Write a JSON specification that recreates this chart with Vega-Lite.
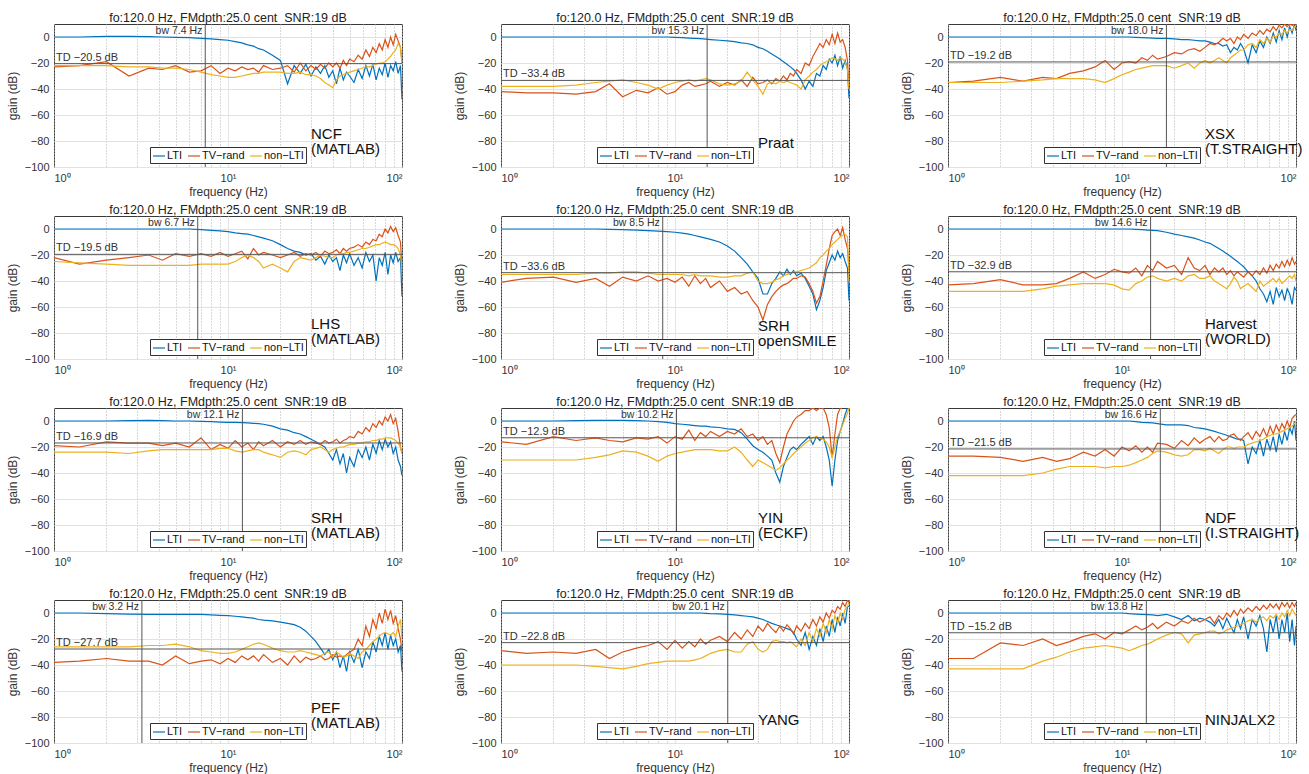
{
"$schema": "https://vega.github.io/schema/vega-lite/v6.json",
"padding": {"left": 5, "top": 11, "right": 0, "bottom": 0},
"config": {
 "font": "Liberation Sans",
 "view": {"stroke": "#3a3a3a"},
 "title": {"fontSize": 12.5, "fontWeight": "normal", "color": "#222", "offset": -1},
 "axis": {"labelFontSize": 11, "titleFontSize": 12, "titleFontWeight": "normal", "labelColor": "#333", "titleColor": "#333", "grid": true, "gridColor": "#e2e2e2", "ticks": false, "domain": false, "labelPadding": 5, "labelOverlap": false},
 "axisY": {"titlePadding": 5},
 "axisX": {"titlePadding": 3},
 "line": {"strokeWidth": 1.2},
 "rule": {"color": "#555", "strokeWidth": 1},
 "text": {"fontSize": 10.5, "color": "#333"},
 "legend": {"symbolType": "stroke", "symbolStrokeWidth": 1.8, "symbolSize": 144, "labelFontSize": 11, "labelColor": "#111", "strokeColor": "#333", "fillColor": "white", "padding": 2, "columnPadding": 2, "labelOffset": 1, "rowPadding": 0}
},
"datasets": {
"p1": [
{"f":1,"L":0,"T":-23,"N":-22},{"f":1.4,"L":0,"T":-22,"N":-22},{"f":2,"L":0.5,"T":-19,"N":-22},{"f":2.7,"L":0.5,"T":-30,"N":-23},{"f":3.5,"L":0.3,"T":-24,"N":-23},{"f":4.2,"L":0,"T":-25,"N":-24},{"f":5,"L":-0.3,"T":-22,"N":-24},{"f":6,"L":-0.5,"T":-27,"N":-25},{"f":7,"L":-1,"T":-26,"N":-27},{"f":8,"L":-1.5,"T":-22,"N":-29},{"f":9,"L":-2,"T":-28,"N":-30},{"f":10,"L":-2.5,"T":-24,"N":-31},{"f":11,"L":-3.5,"T":-26,"N":-31},{"f":12,"L":-4.5,"T":-23,"N":-30},{"f":13,"L":-6,"T":-25,"N":-29},{"f":14,"L":-7,"T":-24,"N":-28},{"f":15,"L":-9,"T":-27,"N":-28},{"f":16,"L":-10,"T":-22,"N":-27},{"f":18,"L":-14,"T":-25,"N":-27},{"f":20,"L":-18,"T":-24,"N":-27},{"f":22,"L":-36,"T":-22,"N":-28},{"f":24,"L":-22,"T":-27,"N":-28},{"f":26,"L":-28,"T":-20,"N":-27},{"f":28,"L":-21,"T":-26,"N":-29},{"f":30,"L":-30,"T":-22,"N":-29},{"f":32,"L":-23,"T":-25,"N":-30},{"f":34,"L":-28,"T":-21,"N":-32},{"f":36,"L":-22,"T":-24,"N":-35},{"f":38,"L":-31,"T":-20,"N":-37},{"f":40,"L":-26,"T":-23,"N":-39},{"f":42,"L":-36,"T":-20,"N":-33},{"f":44,"L":-24,"T":-24,"N":-30},{"f":46,"L":-33,"T":-18,"N":-29},{"f":48,"L":-27,"T":-22,"N":-28},{"f":50,"L":-30,"T":-17,"N":-27},{"f":53,"L":-35,"T":-19,"N":-26},{"f":56,"L":-25,"T":-14,"N":-25},{"f":59,"L":-32,"T":-17,"N":-24},{"f":62,"L":-22,"T":-10,"N":-23},{"f":65,"L":-30,"T":-15,"N":-23},{"f":68,"L":-21,"T":-8,"N":-22},{"f":71,"L":-33,"T":-12,"N":-21},{"f":74,"L":-24,"T":-5,"N":-20},{"f":77,"L":-29,"T":-10,"N":-20},{"f":80,"L":-20,"T":-2,"N":-19},{"f":83,"L":-31,"T":-8,"N":-17},{"f":86,"L":-22,"T":0,"N":-15},{"f":89,"L":-26,"T":-6,"N":-12},{"f":92,"L":-19,"T":2,"N":-10},{"f":95,"L":-28,"T":-3,"N":-5},{"f":98,"L":-22,"T":-8,"N":-8},{"f":100,"L":-48,"T":-20,"N":-20}
],
"p2": [
{"f":1,"L":0,"T":-42,"N":-38},{"f":1.4,"L":0,"T":-43,"N":-38},{"f":2,"L":0,"T":-43,"N":-38},{"f":2.7,"L":0,"T":-44,"N":-37},{"f":3.5,"L":0,"T":-42,"N":-35},{"f":4.2,"L":0,"T":-36,"N":-34},{"f":5,"L":0,"T":-46,"N":-33},{"f":6,"L":0,"T":-41,"N":-35},{"f":7,"L":0,"T":-43,"N":-37},{"f":8,"L":0,"T":-39,"N":-40},{"f":9,"L":0,"T":-44,"N":-37},{"f":10,"L":-0.3,"T":-42,"N":-35},{"f":11,"L":-0.5,"T":-37,"N":-34},{"f":12,"L":-0.8,"T":-35,"N":-33},{"f":13,"L":-1,"T":-38,"N":-34},{"f":14,"L":-1.3,"T":-37,"N":-33},{"f":15,"L":-1.7,"T":-36,"N":-32},{"f":16,"L":-2,"T":-34,"N":-33},{"f":18,"L":-2.5,"T":-38,"N":-36},{"f":20,"L":-3,"T":-35,"N":-37},{"f":22,"L":-3.5,"T":-37,"N":-36},{"f":24,"L":-4.5,"T":-33,"N":-34},{"f":26,"L":-5,"T":-38,"N":-27},{"f":28,"L":-6,"T":-31,"N":-33},{"f":30,"L":-8,"T":-36,"N":-38},{"f":32,"L":-9,"T":-35,"N":-44},{"f":34,"L":-11,"T":-33,"N":-36},{"f":36,"L":-13,"T":-36,"N":-35},{"f":38,"L":-15,"T":-32,"N":-36},{"f":40,"L":-17,"T":-34,"N":-34},{"f":42,"L":-19,"T":-30,"N":-35},{"f":44,"L":-21,"T":-33,"N":-34},{"f":46,"L":-23,"T":-28,"N":-35},{"f":48,"L":-25,"T":-30,"N":-36},{"f":50,"L":-28,"T":-25,"N":-37},{"f":53,"L":-33,"T":-28,"N":-40},{"f":56,"L":-40,"T":-20,"N":-33},{"f":59,"L":-34,"T":-22,"N":-30},{"f":62,"L":-38,"T":-15,"N":-27},{"f":65,"L":-28,"T":-10,"N":-25},{"f":68,"L":-30,"T":-5,"N":-22},{"f":71,"L":-22,"T":-8,"N":-20},{"f":74,"L":-25,"T":-2,"N":-19},{"f":77,"L":-17,"T":-6,"N":-18},{"f":80,"L":-20,"T":2,"N":-16},{"f":83,"L":-14,"T":-5,"N":-17},{"f":86,"L":-22,"T":3,"N":-18},{"f":89,"L":-15,"T":-4,"N":-16},{"f":92,"L":-24,"T":-2,"N":-17},{"f":95,"L":-18,"T":-8,"N":-19},{"f":98,"L":-25,"T":-18,"N":-25},{"f":100,"L":-47,"T":-40,"N":-40}
],
"p3": [
{"f":1,"L":0,"T":-35,"N":-35},{"f":1.4,"L":0,"T":-34,"N":-35},{"f":2,"L":0,"T":-31,"N":-35},{"f":2.7,"L":0,"T":-34,"N":-34},{"f":3.5,"L":0,"T":-31,"N":-33},{"f":4.2,"L":0,"T":-32,"N":-32},{"f":5,"L":0,"T":-28,"N":-32},{"f":6,"L":0,"T":-26,"N":-32},{"f":7,"L":0,"T":-23,"N":-33},{"f":8,"L":0,"T":-18,"N":-35},{"f":9,"L":0,"T":-25,"N":-32},{"f":10,"L":0,"T":-20,"N":-29},{"f":11,"L":0,"T":-19,"N":-27},{"f":12,"L":-0.3,"T":-20,"N":-25},{"f":13,"L":-0.5,"T":-16,"N":-24},{"f":14,"L":-0.7,"T":-18,"N":-23},{"f":15,"L":-0.8,"T":-14,"N":-22},{"f":16,"L":-1,"T":-17,"N":-22},{"f":18,"L":-1,"T":-15,"N":-22},{"f":20,"L":-1.5,"T":-12,"N":-24},{"f":22,"L":-2,"T":-13,"N":-22},{"f":24,"L":-2,"T":-10,"N":-20},{"f":26,"L":-2.5,"T":-9,"N":-24},{"f":28,"L":-3,"T":-11,"N":-20},{"f":30,"L":-3,"T":-8,"N":-18},{"f":32,"L":-4,"T":-5,"N":-20},{"f":34,"L":-5,"T":-6,"N":-18},{"f":36,"L":-5,"T":-4,"N":-16},{"f":38,"L":-7,"T":-1,"N":-18},{"f":40,"L":-6,"T":-3,"N":-20},{"f":42,"L":-12,"T":-1,"N":-16},{"f":44,"L":-8,"T":-5,"N":-14},{"f":46,"L":-10,"T":0,"N":-12},{"f":48,"L":-5,"T":-2,"N":-10},{"f":50,"L":-9,"T":2,"N":-10},{"f":53,"L":-20,"T":-1,"N":-6},{"f":56,"L":-6,"T":3,"N":-5},{"f":59,"L":-12,"T":1,"N":-8},{"f":62,"L":-3,"T":5,"N":-2},{"f":65,"L":-8,"T":2,"N":-5},{"f":68,"L":0,"T":6,"N":-1},{"f":71,"L":-5,"T":4,"N":-4},{"f":74,"L":3,"T":8,"N":1},{"f":77,"L":-4,"T":5,"N":0},{"f":80,"L":5,"T":9,"N":3},{"f":83,"L":-2,"T":7,"N":2},{"f":86,"L":7,"T":10,"N":5},{"f":89,"L":0,"T":8,"N":3},{"f":92,"L":8,"T":10,"N":6},{"f":95,"L":3,"T":9,"N":5},{"f":98,"L":10,"T":10,"N":8},{"f":100,"L":5,"T":10,"N":8}
],
"p4": [
{"f":1,"L":0,"T":-22,"N":-25},{"f":1.4,"L":0,"T":-27,"N":-26},{"f":2,"L":0,"T":-24,"N":-27},{"f":2.7,"L":0,"T":-22,"N":-28},{"f":3.5,"L":0,"T":-20,"N":-28},{"f":4.2,"L":0,"T":-24,"N":-28},{"f":5,"L":0,"T":-19,"N":-28},{"f":6,"L":0,"T":-21,"N":-28},{"f":7,"L":-0.5,"T":-19,"N":-27},{"f":8,"L":-1,"T":-21,"N":-27},{"f":9,"L":-1.5,"T":-18,"N":-27},{"f":10,"L":-2,"T":-21,"N":-27},{"f":11,"L":-3,"T":-19,"N":-25},{"f":12,"L":-3.5,"T":-17,"N":-22},{"f":13,"L":-4,"T":-23,"N":-20},{"f":14,"L":-5,"T":-15,"N":-22},{"f":15,"L":-6,"T":-20,"N":-25},{"f":16,"L":-7,"T":-18,"N":-30},{"f":18,"L":-9,"T":-20,"N":-27},{"f":20,"L":-12,"T":-22,"N":-30},{"f":22,"L":-15,"T":-20,"N":-33},{"f":24,"L":-17,"T":-18,"N":-25},{"f":26,"L":-18,"T":-21,"N":-22},{"f":28,"L":-20,"T":-19,"N":-23},{"f":30,"L":-19,"T":-20,"N":-24},{"f":32,"L":-24,"T":-18,"N":-22},{"f":34,"L":-21,"T":-21,"N":-20},{"f":36,"L":-27,"T":-17,"N":-21},{"f":38,"L":-20,"T":-19,"N":-22},{"f":40,"L":-25,"T":-18,"N":-22},{"f":42,"L":-22,"T":-16,"N":-20},{"f":44,"L":-32,"T":-19,"N":-19},{"f":46,"L":-20,"T":-15,"N":-19},{"f":48,"L":-26,"T":-17,"N":-18},{"f":50,"L":-19,"T":-15,"N":-18},{"f":53,"L":-28,"T":-14,"N":-17},{"f":56,"L":-22,"T":-12,"N":-16},{"f":59,"L":-30,"T":-14,"N":-15},{"f":62,"L":-18,"T":-10,"N":-15},{"f":65,"L":-25,"T":-12,"N":-14},{"f":68,"L":-20,"T":-8,"N":-13},{"f":71,"L":-40,"T":-9,"N":-12},{"f":74,"L":-22,"T":-4,"N":-12},{"f":77,"L":-28,"T":-6,"N":-11},{"f":80,"L":-18,"T":0,"N":-10},{"f":83,"L":-35,"T":-3,"N":-11},{"f":86,"L":-20,"T":2,"N":-12},{"f":89,"L":-26,"T":-2,"N":-12},{"f":92,"L":-18,"T":1,"N":-13},{"f":95,"L":-25,"T":-5,"N":-15},{"f":98,"L":-22,"T":-10,"N":-20},{"f":100,"L":-52,"T":-30,"N":-30}
],
"p5": [
{"f":1,"L":0,"T":-41,"N":-35},{"f":1.4,"L":0,"T":-38,"N":-35},{"f":2,"L":0,"T":-37,"N":-35},{"f":2.7,"L":0,"T":-41,"N":-35},{"f":3.5,"L":0,"T":-38,"N":-34},{"f":4.2,"L":-0.3,"T":-44,"N":-34},{"f":5,"L":-0.5,"T":-37,"N":-33},{"f":6,"L":-0.8,"T":-40,"N":-33},{"f":7,"L":-1.2,"T":-36,"N":-34},{"f":8,"L":-1.6,"T":-40,"N":-35},{"f":9,"L":-2,"T":-38,"N":-35},{"f":10,"L":-2.5,"T":-41,"N":-35},{"f":11,"L":-3.2,"T":-37,"N":-35},{"f":12,"L":-4,"T":-44,"N":-36},{"f":13,"L":-5,"T":-36,"N":-35},{"f":14,"L":-6,"T":-42,"N":-36},{"f":15,"L":-7,"T":-38,"N":-36},{"f":16,"L":-8,"T":-45,"N":-36},{"f":18,"L":-10,"T":-40,"N":-37},{"f":20,"L":-13,"T":-48,"N":-37},{"f":22,"L":-17,"T":-45,"N":-36},{"f":24,"L":-22,"T":-50,"N":-36},{"f":26,"L":-27,"T":-48,"N":-34},{"f":28,"L":-33,"T":-55,"N":-33},{"f":30,"L":-38,"T":-60,"N":-40},{"f":32,"L":-50,"T":-70,"N":-42},{"f":34,"L":-50,"T":-58,"N":-42},{"f":36,"L":-42,"T":-52,"N":-41},{"f":38,"L":-38,"T":-48,"N":-39},{"f":40,"L":-33,"T":-45,"N":-38},{"f":42,"L":-36,"T":-43,"N":-36},{"f":44,"L":-31,"T":-42,"N":-35},{"f":46,"L":-35,"T":-40,"N":-34},{"f":48,"L":-32,"T":-38,"N":-33},{"f":50,"L":-36,"T":-38,"N":-33},{"f":53,"L":-34,"T":-36,"N":-32},{"f":56,"L":-38,"T":-37,"N":-31},{"f":59,"L":-44,"T":-42,"N":-30},{"f":62,"L":-50,"T":-48,"N":-28},{"f":65,"L":-62,"T":-57,"N":-26},{"f":68,"L":-55,"T":-52,"N":-22},{"f":71,"L":-45,"T":-40,"N":-20},{"f":74,"L":-32,"T":-28,"N":-17},{"f":77,"L":-26,"T":-15,"N":-15},{"f":80,"L":-20,"T":-5,"N":-12},{"f":83,"L":-24,"T":-2,"N":-10},{"f":86,"L":-17,"T":0,"N":-8},{"f":89,"L":-22,"T":-5,"N":-6},{"f":92,"L":-19,"T":1,"N":-5},{"f":95,"L":-25,"T":-8,"N":-4},{"f":98,"L":-30,"T":-15,"N":-6},{"f":100,"L":-55,"T":-30,"N":-40}
],
"p6": [
{"f":1,"L":0,"T":-43,"N":-48},{"f":1.4,"L":0,"T":-42,"N":-48},{"f":2,"L":0,"T":-39,"N":-48},{"f":2.7,"L":0,"T":-43,"N":-48},{"f":3.5,"L":0,"T":-43,"N":-46},{"f":4.2,"L":0,"T":-42,"N":-44},{"f":5,"L":0,"T":-38,"N":-43},{"f":6,"L":0,"T":-33,"N":-42},{"f":7,"L":0,"T":-38,"N":-42},{"f":8,"L":0,"T":-35,"N":-42},{"f":9,"L":0,"T":-31,"N":-43},{"f":10,"L":0,"T":-33,"N":-46},{"f":11,"L":0,"T":-34,"N":-47},{"f":12,"L":-0.3,"T":-30,"N":-42},{"f":13,"L":-0.5,"T":-36,"N":-40},{"f":14,"L":-0.8,"T":-28,"N":-37},{"f":15,"L":-1,"T":-32,"N":-36},{"f":16,"L":-1.3,"T":-25,"N":-38},{"f":18,"L":-2.5,"T":-30,"N":-40},{"f":20,"L":-4,"T":-28,"N":-38},{"f":22,"L":-5,"T":-35,"N":-40},{"f":24,"L":-6,"T":-22,"N":-36},{"f":26,"L":-7,"T":-30,"N":-35},{"f":28,"L":-8.5,"T":-32,"N":-38},{"f":30,"L":-10,"T":-28,"N":-38},{"f":32,"L":-11,"T":-35,"N":-36},{"f":34,"L":-13,"T":-30,"N":-40},{"f":36,"L":-15,"T":-33,"N":-42},{"f":38,"L":-17,"T":-30,"N":-44},{"f":40,"L":-19,"T":-35,"N":-46},{"f":42,"L":-21,"T":-32,"N":-42},{"f":44,"L":-23,"T":-36,"N":-37},{"f":46,"L":-25,"T":-33,"N":-40},{"f":48,"L":-27,"T":-35,"N":-46},{"f":50,"L":-29,"T":-37,"N":-44},{"f":53,"L":-33,"T":-33,"N":-42},{"f":56,"L":-36,"T":-36,"N":-45},{"f":59,"L":-40,"T":-32,"N":-48},{"f":62,"L":-46,"T":-35,"N":-40},{"f":65,"L":-50,"T":-30,"N":-44},{"f":68,"L":-56,"T":-34,"N":-42},{"f":71,"L":-48,"T":-28,"N":-40},{"f":74,"L":-58,"T":-32,"N":-38},{"f":77,"L":-45,"T":-27,"N":-41},{"f":80,"L":-52,"T":-30,"N":-38},{"f":83,"L":-47,"T":-25,"N":-42},{"f":86,"L":-55,"T":-29,"N":-40},{"f":89,"L":-46,"T":-24,"N":-38},{"f":92,"L":-50,"T":-28,"N":-36},{"f":95,"L":-58,"T":-22,"N":-38},{"f":98,"L":-45,"T":-27,"N":-35},{"f":100,"L":-47,"T":-25,"N":-40}
],
"p7": [
{"f":1,"L":0,"T":-19,"N":-24},{"f":1.4,"L":0,"T":-20,"N":-24},{"f":2,"L":0,"T":-16,"N":-24},{"f":2.7,"L":0.3,"T":-17,"N":-25},{"f":3.5,"L":0.5,"T":-17,"N":-23},{"f":4.2,"L":0.3,"T":-19,"N":-22},{"f":5,"L":0,"T":-17,"N":-22},{"f":6,"L":0,"T":-20,"N":-22},{"f":7,"L":-0.3,"T":-13,"N":-22},{"f":8,"L":-0.5,"T":-22,"N":-22},{"f":9,"L":-0.8,"T":-18,"N":-21},{"f":10,"L":-1,"T":-21,"N":-21},{"f":11,"L":-1,"T":-15,"N":-23},{"f":12,"L":-1.2,"T":-20,"N":-24},{"f":13,"L":-1.5,"T":-17,"N":-23},{"f":14,"L":-1.8,"T":-22,"N":-22},{"f":15,"L":-2,"T":-16,"N":-22},{"f":16,"L":-2.5,"T":-19,"N":-24},{"f":18,"L":-4,"T":-15,"N":-26},{"f":20,"L":-6,"T":-20,"N":-28},{"f":22,"L":-7,"T":-16,"N":-24},{"f":24,"L":-9,"T":-18,"N":-23},{"f":26,"L":-10,"T":-15,"N":-24},{"f":28,"L":-12,"T":-18,"N":-26},{"f":30,"L":-14,"T":-16,"N":-22},{"f":32,"L":-16,"T":-17,"N":-21},{"f":34,"L":-18,"T":-18,"N":-20},{"f":36,"L":-20,"T":-15,"N":-22},{"f":38,"L":-25,"T":-17,"N":-24},{"f":40,"L":-30,"T":-16,"N":-22},{"f":42,"L":-22,"T":-14,"N":-21},{"f":44,"L":-33,"T":-17,"N":-20},{"f":46,"L":-25,"T":-15,"N":-20},{"f":48,"L":-40,"T":-14,"N":-19},{"f":50,"L":-28,"T":-12,"N":-18},{"f":53,"L":-35,"T":-13,"N":-18},{"f":56,"L":-22,"T":-8,"N":-17},{"f":59,"L":-28,"T":-10,"N":-17},{"f":62,"L":-20,"T":-5,"N":-16},{"f":65,"L":-30,"T":-8,"N":-16},{"f":68,"L":-18,"T":-2,"N":-15},{"f":71,"L":-25,"T":-5,"N":-15},{"f":74,"L":-15,"T":0,"N":-14},{"f":77,"L":-22,"T":-3,"N":-14},{"f":80,"L":-14,"T":3,"N":-13},{"f":83,"L":-20,"T":0,"N":-13},{"f":86,"L":-16,"T":5,"N":-13},{"f":89,"L":-25,"T":-2,"N":-14},{"f":92,"L":-20,"T":2,"N":-15},{"f":95,"L":-30,"T":-8,"N":-17},{"f":98,"L":-35,"T":-20,"N":-20},{"f":100,"L":-42,"T":-25,"N":-25}
],
"p8": [
{"f":1,"L":0,"T":-16,"N":-30},{"f":1.4,"L":0,"T":-18,"N":-30},{"f":2,"L":0,"T":-12,"N":-30},{"f":2.7,"L":0.3,"T":-15,"N":-30},{"f":3.5,"L":0.5,"T":-13,"N":-28},{"f":4.2,"L":0.5,"T":-15,"N":-26},{"f":5,"L":0.5,"T":-16,"N":-23},{"f":6,"L":0.3,"T":-13,"N":-24},{"f":7,"L":0,"T":-14,"N":-27},{"f":8,"L":-0.5,"T":-12,"N":-31},{"f":9,"L":-1,"T":-17,"N":-27},{"f":10,"L":-2,"T":-12,"N":-25},{"f":11,"L":-2.5,"T":-14,"N":-24},{"f":12,"L":-3,"T":-7,"N":-23},{"f":13,"L":-3.5,"T":-15,"N":-22},{"f":14,"L":-4,"T":-9,"N":-22},{"f":15,"L":-4,"T":-12,"N":-22},{"f":16,"L":-4.5,"T":-8,"N":-22},{"f":18,"L":-5,"T":-12,"N":-23},{"f":20,"L":-6,"T":-8,"N":-23},{"f":22,"L":-6.5,"T":-10,"N":-20},{"f":24,"L":-9,"T":-6,"N":-24},{"f":26,"L":-14,"T":-12,"N":-30},{"f":28,"L":-19,"T":-10,"N":-35},{"f":30,"L":-22,"T":-15,"N":-30},{"f":32,"L":-24,"T":-12,"N":-32},{"f":34,"L":-27,"T":-18,"N":-34},{"f":36,"L":-30,"T":-15,"N":-36},{"f":38,"L":-40,"T":-25,"N":-38},{"f":40,"L":-47,"T":-32,"N":-36},{"f":42,"L":-35,"T":-20,"N":-33},{"f":44,"L":-28,"T":-10,"N":-30},{"f":46,"L":-22,"T":-5,"N":-28},{"f":48,"L":-20,"T":0,"N":-25},{"f":50,"L":-22,"T":3,"N":-23},{"f":53,"L":-18,"T":5,"N":-20},{"f":56,"L":-15,"T":8,"N":-17},{"f":59,"L":-12,"T":8,"N":-15},{"f":62,"L":-18,"T":10,"N":-13},{"f":65,"L":-12,"T":8,"N":-12},{"f":68,"L":-15,"T":10,"N":-13},{"f":71,"L":-12,"T":10,"N":-14},{"f":74,"L":-20,"T":5,"N":-16},{"f":77,"L":-30,"T":-5,"N":-20},{"f":80,"L":-50,"T":-28,"N":-28},{"f":83,"L":-30,"T":-10,"N":-20},{"f":86,"L":-15,"T":5,"N":-12},{"f":89,"L":-8,"T":10,"N":-8},{"f":92,"L":-2,"T":12,"N":-3},{"f":95,"L":5,"T":12,"N":2},{"f":98,"L":10,"T":12,"N":6},{"f":100,"L":10,"T":12,"N":10}
],
"p9": [
{"f":1,"L":0,"T":-27,"N":-42},{"f":1.4,"L":0,"T":-27,"N":-42},{"f":2,"L":0,"T":-28,"N":-42},{"f":2.7,"L":0,"T":-31,"N":-42},{"f":3.5,"L":0,"T":-28,"N":-40},{"f":4.2,"L":0,"T":-31,"N":-37},{"f":5,"L":0,"T":-29,"N":-35},{"f":6,"L":0,"T":-24,"N":-35},{"f":7,"L":0,"T":-27,"N":-35},{"f":8,"L":0,"T":-22,"N":-36},{"f":9,"L":0,"T":-27,"N":-35},{"f":10,"L":0,"T":-20,"N":-35},{"f":11,"L":0,"T":-23,"N":-34},{"f":12,"L":-0.5,"T":-19,"N":-32},{"f":13,"L":-1,"T":-24,"N":-30},{"f":14,"L":-1.2,"T":-20,"N":-28},{"f":15,"L":-1.5,"T":-24,"N":-25},{"f":16,"L":-2,"T":-17,"N":-23},{"f":18,"L":-3,"T":-18,"N":-24},{"f":20,"L":-3,"T":-21,"N":-26},{"f":22,"L":-3,"T":-15,"N":-27},{"f":24,"L":-3.5,"T":-19,"N":-26},{"f":26,"L":-5,"T":-13,"N":-22},{"f":28,"L":-5.5,"T":-17,"N":-22},{"f":30,"L":-6,"T":-14,"N":-23},{"f":32,"L":-7,"T":-12,"N":-21},{"f":34,"L":-8,"T":-16,"N":-23},{"f":36,"L":-9,"T":-12,"N":-25},{"f":38,"L":-10,"T":-15,"N":-22},{"f":40,"L":-11,"T":-14,"N":-20},{"f":42,"L":-12,"T":-11,"N":-20},{"f":44,"L":-13,"T":-10,"N":-21},{"f":46,"L":-14,"T":-13,"N":-20},{"f":48,"L":-14,"T":-15,"N":-20},{"f":50,"L":-15,"T":-12,"N":-20},{"f":53,"L":-33,"T":-9,"N":-18},{"f":56,"L":-20,"T":-14,"N":-17},{"f":59,"L":-25,"T":-8,"N":-16},{"f":62,"L":-15,"T":-12,"N":-15},{"f":65,"L":-27,"T":-6,"N":-14},{"f":68,"L":-14,"T":-12,"N":-12},{"f":71,"L":-22,"T":-4,"N":-11},{"f":74,"L":-12,"T":-10,"N":-10},{"f":77,"L":-24,"T":-3,"N":-10},{"f":80,"L":-10,"T":-8,"N":-9},{"f":83,"L":-18,"T":-2,"N":-8},{"f":86,"L":-8,"T":-6,"N":-7},{"f":89,"L":-15,"T":0,"N":-6},{"f":92,"L":-5,"T":-5,"N":-5},{"f":95,"L":-10,"T":2,"N":-4},{"f":98,"L":0,"T":4,"N":-2},{"f":100,"L":-15,"T":5,"N":0}
],
"p10": [
{"f":1,"L":0,"T":-38,"N":-26},{"f":1.4,"L":0,"T":-37,"N":-26},{"f":2,"L":-0.5,"T":-35,"N":-26},{"f":2.7,"L":-0.8,"T":-37,"N":-26},{"f":3.5,"L":-1,"T":-37,"N":-25},{"f":4.2,"L":-1,"T":-40,"N":-25},{"f":5,"L":-1,"T":-33,"N":-24},{"f":6,"L":-1,"T":-39,"N":-26},{"f":7,"L":-1,"T":-37,"N":-29},{"f":8,"L":-1.5,"T":-36,"N":-30},{"f":9,"L":-1.8,"T":-39,"N":-31},{"f":10,"L":-2,"T":-35,"N":-31},{"f":11,"L":-2.5,"T":-38,"N":-30},{"f":12,"L":-3,"T":-33,"N":-28},{"f":13,"L":-3.5,"T":-36,"N":-26},{"f":14,"L":-4,"T":-33,"N":-24},{"f":15,"L":-5,"T":-37,"N":-23},{"f":16,"L":-5.5,"T":-32,"N":-24},{"f":18,"L":-6,"T":-38,"N":-27},{"f":20,"L":-7,"T":-35,"N":-29},{"f":22,"L":-8,"T":-40,"N":-30},{"f":24,"L":-9,"T":-33,"N":-30},{"f":26,"L":-11,"T":-38,"N":-29},{"f":28,"L":-14,"T":-34,"N":-30},{"f":30,"L":-18,"T":-36,"N":-31},{"f":32,"L":-22,"T":-35,"N":-32},{"f":34,"L":-27,"T":-33,"N":-33},{"f":36,"L":-32,"T":-36,"N":-31},{"f":38,"L":-28,"T":-35,"N":-30},{"f":40,"L":-36,"T":-32,"N":-34},{"f":42,"L":-30,"T":-34,"N":-30},{"f":44,"L":-42,"T":-33,"N":-32},{"f":46,"L":-33,"T":-34,"N":-34},{"f":48,"L":-45,"T":-32,"N":-33},{"f":50,"L":-30,"T":-30,"N":-31},{"f":53,"L":-38,"T":-28,"N":-33},{"f":56,"L":-28,"T":-20,"N":-35},{"f":59,"L":-42,"T":-25,"N":-30},{"f":62,"L":-30,"T":-10,"N":-28},{"f":65,"L":-35,"T":-18,"N":-25},{"f":68,"L":-22,"T":-5,"N":-22},{"f":71,"L":-30,"T":-12,"N":-20},{"f":74,"L":-18,"T":0,"N":-18},{"f":77,"L":-25,"T":-8,"N":-16},{"f":80,"L":-15,"T":3,"N":-15},{"f":83,"L":-28,"T":-5,"N":-16},{"f":86,"L":-17,"T":2,"N":-17},{"f":89,"L":-25,"T":-8,"N":-15},{"f":92,"L":-20,"T":-2,"N":-18},{"f":95,"L":-30,"T":-12,"N":-10},{"f":98,"L":-25,"T":-20,"N":-5},{"f":100,"L":-45,"T":-30,"N":-20}
],
"p11": [
{"f":1,"L":0,"T":-29,"N":-40},{"f":1.4,"L":0,"T":-31,"N":-40},{"f":2,"L":0,"T":-30,"N":-40},{"f":2.7,"L":0,"T":-31,"N":-40},{"f":3.5,"L":0,"T":-28,"N":-41},{"f":4.2,"L":0,"T":-35,"N":-42},{"f":5,"L":0,"T":-30,"N":-43},{"f":6,"L":0,"T":-27,"N":-41},{"f":7,"L":0,"T":-25,"N":-39},{"f":8,"L":0,"T":-22,"N":-38},{"f":9,"L":0,"T":-28,"N":-37},{"f":10,"L":0,"T":-21,"N":-37},{"f":11,"L":0,"T":-27,"N":-37},{"f":12,"L":0,"T":-22,"N":-37},{"f":13,"L":0,"T":-26,"N":-36},{"f":14,"L":0,"T":-20,"N":-35},{"f":15,"L":-0.3,"T":-24,"N":-33},{"f":16,"L":-0.5,"T":-21,"N":-31},{"f":18,"L":-0.7,"T":-18,"N":-29},{"f":20,"L":-1,"T":-22,"N":-28},{"f":22,"L":-1.5,"T":-15,"N":-30},{"f":24,"L":-2,"T":-20,"N":-30},{"f":26,"L":-2.5,"T":-13,"N":-24},{"f":28,"L":-3,"T":-18,"N":-22},{"f":30,"L":-4,"T":-10,"N":-28},{"f":32,"L":-5,"T":-14,"N":-30},{"f":34,"L":-6.5,"T":-8,"N":-28},{"f":36,"L":-8,"T":-12,"N":-22},{"f":38,"L":-9,"T":-15,"N":-21},{"f":40,"L":-10,"T":-10,"N":-22},{"f":42,"L":-11,"T":-14,"N":-22},{"f":44,"L":-12,"T":-9,"N":-23},{"f":46,"L":-13,"T":-12,"N":-22},{"f":48,"L":-15,"T":-16,"N":-24},{"f":50,"L":-20,"T":-10,"N":-26},{"f":53,"L":-25,"T":-14,"N":-20},{"f":56,"L":-15,"T":-8,"N":-25},{"f":59,"L":-28,"T":-12,"N":-15},{"f":62,"L":-18,"T":-5,"N":-22},{"f":65,"L":-25,"T":-10,"N":-12},{"f":68,"L":-12,"T":-3,"N":-18},{"f":71,"L":-22,"T":-7,"N":-8},{"f":74,"L":-10,"T":0,"N":-15},{"f":77,"L":-18,"T":-4,"N":-5},{"f":80,"L":-5,"T":2,"N":-12},{"f":83,"L":-15,"T":0,"N":-2},{"f":86,"L":-3,"T":5,"N":-8},{"f":89,"L":-10,"T":3,"N":0},{"f":92,"L":0,"T":8,"N":-5},{"f":95,"L":-8,"T":5,"N":3},{"f":98,"L":5,"T":10,"N":5},{"f":100,"L":5,"T":8,"N":8}
],
"p12": [
{"f":1,"L":0,"T":-35,"N":-43},{"f":1.4,"L":0,"T":-35,"N":-43},{"f":2,"L":0,"T":-23,"N":-43},{"f":2.7,"L":0,"T":-25,"N":-43},{"f":3.5,"L":0,"T":-20,"N":-37},{"f":4.2,"L":0,"T":-25,"N":-34},{"f":5,"L":0,"T":-22,"N":-30},{"f":6,"L":0,"T":-18,"N":-27},{"f":7,"L":0,"T":-16,"N":-26},{"f":8,"L":0,"T":-20,"N":-25},{"f":9,"L":0,"T":-15,"N":-26},{"f":10,"L":0,"T":-16,"N":-27},{"f":11,"L":-0.5,"T":-13,"N":-29},{"f":12,"L":-0.8,"T":-10,"N":-27},{"f":13,"L":-1,"T":-13,"N":-25},{"f":14,"L":-1.2,"T":-11,"N":-24},{"f":15,"L":-1.5,"T":-8,"N":-22},{"f":16,"L":-2,"T":-12,"N":-20},{"f":18,"L":-1,"T":-7,"N":-17},{"f":20,"L":-3,"T":-10,"N":-15},{"f":22,"L":-5,"T":-6,"N":-16},{"f":24,"L":-2,"T":-8,"N":-23},{"f":26,"L":-6,"T":-4,"N":-17},{"f":28,"L":-4,"T":-7,"N":-16},{"f":30,"L":-5,"T":-5,"N":-15},{"f":32,"L":-7,"T":-3,"N":-14},{"f":34,"L":-10,"T":-8,"N":-14},{"f":36,"L":-5,"T":-2,"N":-16},{"f":38,"L":-12,"T":-5,"N":-15},{"f":40,"L":-4,"T":0,"N":-13},{"f":42,"L":-10,"T":-3,"N":-12},{"f":44,"L":-15,"T":2,"N":-11},{"f":46,"L":-5,"T":-2,"N":-10},{"f":48,"L":-12,"T":3,"N":-9},{"f":50,"L":-3,"T":0,"N":-8},{"f":53,"L":-20,"T":4,"N":-6},{"f":56,"L":-5,"T":1,"N":-5},{"f":59,"L":-10,"T":5,"N":-7},{"f":62,"L":-2,"T":2,"N":-4},{"f":65,"L":-12,"T":6,"N":-3},{"f":68,"L":-30,"T":3,"N":-6},{"f":71,"L":-5,"T":7,"N":-2},{"f":74,"L":-15,"T":4,"N":-4},{"f":77,"L":-2,"T":7,"N":-1},{"f":80,"L":-20,"T":3,"N":-5},{"f":83,"L":-5,"T":8,"N":0},{"f":86,"L":-15,"T":5,"N":-3},{"f":89,"L":0,"T":8,"N":2},{"f":92,"L":-22,"T":4,"N":-2},{"f":95,"L":-5,"T":8,"N":3},{"f":98,"L":-25,"T":5,"N":0},{"f":100,"L":-10,"T":8,"N":-2}
]
},
"columns": 3,
"spacing": {"row": 49, "column": 99},
"bounds": "flush",
"resolve": {"scale": {"color": "independent", "x": "independent", "y": "independent"}, "legend": {"color": "independent"}},
"concat": [
{"width":348,"height":143,"title":"fo:120.0 Hz, FMdpth:25.0 cent\u00a0 SNR:19 dB","resolve":{"axis":{"x":"independent","y":"independent"}},"layer":[
{"data":{"name":"p1"},"transform":[{"fold":["L","T","N"],"as":["s","g"]}],"mark":{"type":"line","clip":true},"encoding":{"x":{"field":"f","type":"quantitative","scale":{"type":"log","domain":[1,100],"nice":false},"axis":{"orient":"bottom","values":[1,2,3,4,5,6,7,8,9,10,20,30,40,50,60,70,80,90,100],"labelExpr":"datum.value==1?'10⁰':datum.value==10?'10¹':datum.value==100?'10²':''","gridDash":{"condition":{"test":"datum.value==10","value":[1,0]},"value":[1,2]},"gridColor":{"condition":{"test":"datum.value==10","value":"#dcdcdc"},"value":"#b0b0b0"},"title":"frequency (Hz)"}},"y":{"field":"g","type":"quantitative","scale":{"domain":[-100,10],"nice":false},"axis":{"orient":"left","values":[-100,-80,-60,-40,-20,0],"title":"gain (dB)"}},"color":{"field":"s","type":"nominal","scale":{"domain":["L","T","N"],"range":["#0072BD","#D95319","#EDB120"]},"legend":{"title":null,"orient":"none","legendX":96,"legendY":123,"direction":"horizontal","labelExpr":"datum.label=='L'?'LTI':datum.label=='T'?'TV−rand':'non−LTI'"}}}},
{"data":{"values":[{}]},"mark":{"type":"rule"},"encoding":{"x":{"datum":7.4,"type":"quantitative","axis":null}}},
{"data":{"values":[{}]},"mark":{"type":"rule"},"encoding":{"y":{"datum":-20.5,"type":"quantitative","axis":null}}},
{"data":{"values":[{}]},"mark":{"type":"text","align":"right","dx":-3},"encoding":{"x":{"datum":7.4,"type":"quantitative","axis":null},"y":{"datum":5,"type":"quantitative","axis":null},"text":{"value":"bw 7.4 Hz"}}},
{"data":{"values":[{}]},"mark":{"type":"text","align":"left","baseline":"bottom","dx":2,"dy":-1,"fontSize":11},"encoding":{"x":{"datum":1,"type":"quantitative","axis":null},"y":{"datum":-20.5,"type":"quantitative","axis":null},"text":{"value":"TD −20.5 dB"}}},
{"data":{"values":[{}]},"mark":{"type":"text","align":"left","baseline":"top","fontSize":15,"lineHeight":15,"color":"#111"},"encoding":{"x":{"datum":30,"type":"quantitative","axis":null},"y":{"datum":-69,"type":"quantitative","axis":null},"text":{"value":["NCF","(MATLAB)"]}}}
]},
{"width":348,"height":143,"title":"fo:120.0 Hz, FMdpth:25.0 cent\u00a0 SNR:19 dB","resolve":{"axis":{"x":"independent","y":"independent"}},"layer":[
{"data":{"name":"p2"},"transform":[{"fold":["L","T","N"],"as":["s","g"]}],"mark":{"type":"line","clip":true},"encoding":{"x":{"field":"f","type":"quantitative","scale":{"type":"log","domain":[1,100],"nice":false},"axis":{"orient":"bottom","values":[1,2,3,4,5,6,7,8,9,10,20,30,40,50,60,70,80,90,100],"labelExpr":"datum.value==1?'10⁰':datum.value==10?'10¹':datum.value==100?'10²':''","gridDash":{"condition":{"test":"datum.value==10","value":[1,0]},"value":[1,2]},"gridColor":{"condition":{"test":"datum.value==10","value":"#dcdcdc"},"value":"#b0b0b0"},"title":"frequency (Hz)"}},"y":{"field":"g","type":"quantitative","scale":{"domain":[-100,10],"nice":false},"axis":{"orient":"left","values":[-100,-80,-60,-40,-20,0],"title":"gain (dB)"}},"color":{"field":"s","type":"nominal","scale":{"domain":["L","T","N"],"range":["#0072BD","#D95319","#EDB120"]},"legend":{"title":null,"orient":"none","legendX":96,"legendY":123,"direction":"horizontal","labelExpr":"datum.label=='L'?'LTI':datum.label=='T'?'TV−rand':'non−LTI'"}}}},
{"data":{"values":[{}]},"mark":{"type":"rule"},"encoding":{"x":{"datum":15.3,"type":"quantitative","axis":null}}},
{"data":{"values":[{}]},"mark":{"type":"rule"},"encoding":{"y":{"datum":-33.4,"type":"quantitative","axis":null}}},
{"data":{"values":[{}]},"mark":{"type":"text","align":"right","dx":-3},"encoding":{"x":{"datum":15.3,"type":"quantitative","axis":null},"y":{"datum":5,"type":"quantitative","axis":null},"text":{"value":"bw 15.3 Hz"}}},
{"data":{"values":[{}]},"mark":{"type":"text","align":"left","baseline":"bottom","dx":2,"dy":-1,"fontSize":11},"encoding":{"x":{"datum":1,"type":"quantitative","axis":null},"y":{"datum":-33.4,"type":"quantitative","axis":null},"text":{"value":"TD −33.4 dB"}}},
{"data":{"values":[{}]},"mark":{"type":"text","align":"left","baseline":"top","fontSize":15,"lineHeight":15,"color":"#111"},"encoding":{"x":{"datum":30,"type":"quantitative","axis":null},"y":{"datum":-76,"type":"quantitative","axis":null},"text":{"value":"Praat"}}}
]},
{"width":348,"height":143,"title":"fo:120.0 Hz, FMdpth:25.0 cent\u00a0 SNR:19 dB","resolve":{"axis":{"x":"independent","y":"independent"}},"layer":[
{"data":{"name":"p3"},"transform":[{"fold":["L","T","N"],"as":["s","g"]}],"mark":{"type":"line","clip":true},"encoding":{"x":{"field":"f","type":"quantitative","scale":{"type":"log","domain":[1,100],"nice":false},"axis":{"orient":"bottom","values":[1,2,3,4,5,6,7,8,9,10,20,30,40,50,60,70,80,90,100],"labelExpr":"datum.value==1?'10⁰':datum.value==10?'10¹':datum.value==100?'10²':''","gridDash":{"condition":{"test":"datum.value==10","value":[1,0]},"value":[1,2]},"gridColor":{"condition":{"test":"datum.value==10","value":"#dcdcdc"},"value":"#b0b0b0"},"title":"frequency (Hz)"}},"y":{"field":"g","type":"quantitative","scale":{"domain":[-100,10],"nice":false},"axis":{"orient":"left","values":[-100,-80,-60,-40,-20,0],"title":"gain (dB)"}},"color":{"field":"s","type":"nominal","scale":{"domain":["L","T","N"],"range":["#0072BD","#D95319","#EDB120"]},"legend":{"title":null,"orient":"none","legendX":96,"legendY":123,"direction":"horizontal","labelExpr":"datum.label=='L'?'LTI':datum.label=='T'?'TV−rand':'non−LTI'"}}}},
{"data":{"values":[{}]},"mark":{"type":"rule"},"encoding":{"x":{"datum":18.0,"type":"quantitative","axis":null}}},
{"data":{"values":[{}]},"mark":{"type":"rule"},"encoding":{"y":{"datum":-19.2,"type":"quantitative","axis":null}}},
{"data":{"values":[{}]},"mark":{"type":"text","align":"right","dx":-3},"encoding":{"x":{"datum":18.0,"type":"quantitative","axis":null},"y":{"datum":5,"type":"quantitative","axis":null},"text":{"value":"bw 18.0 Hz"}}},
{"data":{"values":[{}]},"mark":{"type":"text","align":"left","baseline":"bottom","dx":2,"dy":-1,"fontSize":11},"encoding":{"x":{"datum":1,"type":"quantitative","axis":null},"y":{"datum":-19.2,"type":"quantitative","axis":null},"text":{"value":"TD −19.2 dB"}}},
{"data":{"values":[{}]},"mark":{"type":"text","align":"left","baseline":"top","fontSize":15,"lineHeight":15,"color":"#111"},"encoding":{"x":{"datum":30,"type":"quantitative","axis":null},"y":{"datum":-69,"type":"quantitative","axis":null},"text":{"value":["XSX","(T.STRAIGHT)"]}}}
]},
{"width":348,"height":143,"title":"fo:120.0 Hz, FMdpth:25.0 cent\u00a0 SNR:19 dB","resolve":{"axis":{"x":"independent","y":"independent"}},"layer":[
{"data":{"name":"p4"},"transform":[{"fold":["L","T","N"],"as":["s","g"]}],"mark":{"type":"line","clip":true},"encoding":{"x":{"field":"f","type":"quantitative","scale":{"type":"log","domain":[1,100],"nice":false},"axis":{"orient":"bottom","values":[1,2,3,4,5,6,7,8,9,10,20,30,40,50,60,70,80,90,100],"labelExpr":"datum.value==1?'10⁰':datum.value==10?'10¹':datum.value==100?'10²':''","gridDash":{"condition":{"test":"datum.value==10","value":[1,0]},"value":[1,2]},"gridColor":{"condition":{"test":"datum.value==10","value":"#dcdcdc"},"value":"#b0b0b0"},"title":"frequency (Hz)"}},"y":{"field":"g","type":"quantitative","scale":{"domain":[-100,10],"nice":false},"axis":{"orient":"left","values":[-100,-80,-60,-40,-20,0],"title":"gain (dB)"}},"color":{"field":"s","type":"nominal","scale":{"domain":["L","T","N"],"range":["#0072BD","#D95319","#EDB120"]},"legend":{"title":null,"orient":"none","legendX":96,"legendY":123,"direction":"horizontal","labelExpr":"datum.label=='L'?'LTI':datum.label=='T'?'TV−rand':'non−LTI'"}}}},
{"data":{"values":[{}]},"mark":{"type":"rule"},"encoding":{"x":{"datum":6.7,"type":"quantitative","axis":null}}},
{"data":{"values":[{}]},"mark":{"type":"rule"},"encoding":{"y":{"datum":-19.5,"type":"quantitative","axis":null}}},
{"data":{"values":[{}]},"mark":{"type":"text","align":"right","dx":-3},"encoding":{"x":{"datum":6.7,"type":"quantitative","axis":null},"y":{"datum":5,"type":"quantitative","axis":null},"text":{"value":"bw 6.7 Hz"}}},
{"data":{"values":[{}]},"mark":{"type":"text","align":"left","baseline":"bottom","dx":2,"dy":-1,"fontSize":11},"encoding":{"x":{"datum":1,"type":"quantitative","axis":null},"y":{"datum":-19.5,"type":"quantitative","axis":null},"text":{"value":"TD −19.5 dB"}}},
{"data":{"values":[{}]},"mark":{"type":"text","align":"left","baseline":"top","fontSize":15,"lineHeight":15,"color":"#111"},"encoding":{"x":{"datum":30,"type":"quantitative","axis":null},"y":{"datum":-68,"type":"quantitative","axis":null},"text":{"value":["LHS","(MATLAB)"]}}}
]},
{"width":348,"height":143,"title":"fo:120.0 Hz, FMdpth:25.0 cent\u00a0 SNR:19 dB","resolve":{"axis":{"x":"independent","y":"independent"}},"layer":[
{"data":{"name":"p5"},"transform":[{"fold":["L","T","N"],"as":["s","g"]}],"mark":{"type":"line","clip":true},"encoding":{"x":{"field":"f","type":"quantitative","scale":{"type":"log","domain":[1,100],"nice":false},"axis":{"orient":"bottom","values":[1,2,3,4,5,6,7,8,9,10,20,30,40,50,60,70,80,90,100],"labelExpr":"datum.value==1?'10⁰':datum.value==10?'10¹':datum.value==100?'10²':''","gridDash":{"condition":{"test":"datum.value==10","value":[1,0]},"value":[1,2]},"gridColor":{"condition":{"test":"datum.value==10","value":"#dcdcdc"},"value":"#b0b0b0"},"title":"frequency (Hz)"}},"y":{"field":"g","type":"quantitative","scale":{"domain":[-100,10],"nice":false},"axis":{"orient":"left","values":[-100,-80,-60,-40,-20,0],"title":"gain (dB)"}},"color":{"field":"s","type":"nominal","scale":{"domain":["L","T","N"],"range":["#0072BD","#D95319","#EDB120"]},"legend":{"title":null,"orient":"none","legendX":96,"legendY":123,"direction":"horizontal","labelExpr":"datum.label=='L'?'LTI':datum.label=='T'?'TV−rand':'non−LTI'"}}}},
{"data":{"values":[{}]},"mark":{"type":"rule"},"encoding":{"x":{"datum":8.5,"type":"quantitative","axis":null}}},
{"data":{"values":[{}]},"mark":{"type":"rule"},"encoding":{"y":{"datum":-33.6,"type":"quantitative","axis":null}}},
{"data":{"values":[{}]},"mark":{"type":"text","align":"right","dx":-3},"encoding":{"x":{"datum":8.5,"type":"quantitative","axis":null},"y":{"datum":5,"type":"quantitative","axis":null},"text":{"value":"bw 8.5 Hz"}}},
{"data":{"values":[{}]},"mark":{"type":"text","align":"left","baseline":"bottom","dx":2,"dy":-1,"fontSize":11},"encoding":{"x":{"datum":1,"type":"quantitative","axis":null},"y":{"datum":-33.6,"type":"quantitative","axis":null},"text":{"value":"TD −33.6 dB"}}},
{"data":{"values":[{}]},"mark":{"type":"text","align":"left","baseline":"top","fontSize":15,"lineHeight":15,"color":"#111"},"encoding":{"x":{"datum":30,"type":"quantitative","axis":null},"y":{"datum":-69,"type":"quantitative","axis":null},"text":{"value":["SRH","openSMILE"]}}}
]},
{"width":348,"height":143,"title":"fo:120.0 Hz, FMdpth:25.0 cent\u00a0 SNR:19 dB","resolve":{"axis":{"x":"independent","y":"independent"}},"layer":[
{"data":{"name":"p6"},"transform":[{"fold":["L","T","N"],"as":["s","g"]}],"mark":{"type":"line","clip":true},"encoding":{"x":{"field":"f","type":"quantitative","scale":{"type":"log","domain":[1,100],"nice":false},"axis":{"orient":"bottom","values":[1,2,3,4,5,6,7,8,9,10,20,30,40,50,60,70,80,90,100],"labelExpr":"datum.value==1?'10⁰':datum.value==10?'10¹':datum.value==100?'10²':''","gridDash":{"condition":{"test":"datum.value==10","value":[1,0]},"value":[1,2]},"gridColor":{"condition":{"test":"datum.value==10","value":"#dcdcdc"},"value":"#b0b0b0"},"title":"frequency (Hz)"}},"y":{"field":"g","type":"quantitative","scale":{"domain":[-100,10],"nice":false},"axis":{"orient":"left","values":[-100,-80,-60,-40,-20,0],"title":"gain (dB)"}},"color":{"field":"s","type":"nominal","scale":{"domain":["L","T","N"],"range":["#0072BD","#D95319","#EDB120"]},"legend":{"title":null,"orient":"none","legendX":96,"legendY":123,"direction":"horizontal","labelExpr":"datum.label=='L'?'LTI':datum.label=='T'?'TV−rand':'non−LTI'"}}}},
{"data":{"values":[{}]},"mark":{"type":"rule"},"encoding":{"x":{"datum":14.6,"type":"quantitative","axis":null}}},
{"data":{"values":[{}]},"mark":{"type":"rule"},"encoding":{"y":{"datum":-32.9,"type":"quantitative","axis":null}}},
{"data":{"values":[{}]},"mark":{"type":"text","align":"right","dx":-3},"encoding":{"x":{"datum":14.6,"type":"quantitative","axis":null},"y":{"datum":5,"type":"quantitative","axis":null},"text":{"value":"bw 14.6 Hz"}}},
{"data":{"values":[{}]},"mark":{"type":"text","align":"left","baseline":"bottom","dx":2,"dy":-1,"fontSize":11},"encoding":{"x":{"datum":1,"type":"quantitative","axis":null},"y":{"datum":-32.9,"type":"quantitative","axis":null},"text":{"value":"TD −32.9 dB"}}},
{"data":{"values":[{}]},"mark":{"type":"text","align":"left","baseline":"top","fontSize":15,"lineHeight":15,"color":"#111"},"encoding":{"x":{"datum":30,"type":"quantitative","axis":null},"y":{"datum":-68,"type":"quantitative","axis":null},"text":{"value":["Harvest","(WORLD)"]}}}
]},
{"width":348,"height":143,"title":"fo:120.0 Hz, FMdpth:25.0 cent\u00a0 SNR:19 dB","resolve":{"axis":{"x":"independent","y":"independent"}},"layer":[
{"data":{"name":"p7"},"transform":[{"fold":["L","T","N"],"as":["s","g"]}],"mark":{"type":"line","clip":true},"encoding":{"x":{"field":"f","type":"quantitative","scale":{"type":"log","domain":[1,100],"nice":false},"axis":{"orient":"bottom","values":[1,2,3,4,5,6,7,8,9,10,20,30,40,50,60,70,80,90,100],"labelExpr":"datum.value==1?'10⁰':datum.value==10?'10¹':datum.value==100?'10²':''","gridDash":{"condition":{"test":"datum.value==10","value":[1,0]},"value":[1,2]},"gridColor":{"condition":{"test":"datum.value==10","value":"#dcdcdc"},"value":"#b0b0b0"},"title":"frequency (Hz)"}},"y":{"field":"g","type":"quantitative","scale":{"domain":[-100,10],"nice":false},"axis":{"orient":"left","values":[-100,-80,-60,-40,-20,0],"title":"gain (dB)"}},"color":{"field":"s","type":"nominal","scale":{"domain":["L","T","N"],"range":["#0072BD","#D95319","#EDB120"]},"legend":{"title":null,"orient":"none","legendX":96,"legendY":123,"direction":"horizontal","labelExpr":"datum.label=='L'?'LTI':datum.label=='T'?'TV−rand':'non−LTI'"}}}},
{"data":{"values":[{}]},"mark":{"type":"rule"},"encoding":{"x":{"datum":12.1,"type":"quantitative","axis":null}}},
{"data":{"values":[{}]},"mark":{"type":"rule"},"encoding":{"y":{"datum":-16.9,"type":"quantitative","axis":null}}},
{"data":{"values":[{}]},"mark":{"type":"text","align":"right","dx":-3},"encoding":{"x":{"datum":12.1,"type":"quantitative","axis":null},"y":{"datum":5,"type":"quantitative","axis":null},"text":{"value":"bw 12.1 Hz"}}},
{"data":{"values":[{}]},"mark":{"type":"text","align":"left","baseline":"bottom","dx":2,"dy":-1,"fontSize":11},"encoding":{"x":{"datum":1,"type":"quantitative","axis":null},"y":{"datum":-16.9,"type":"quantitative","axis":null},"text":{"value":"TD −16.9 dB"}}},
{"data":{"values":[{}]},"mark":{"type":"text","align":"left","baseline":"top","fontSize":15,"lineHeight":15,"color":"#111"},"encoding":{"x":{"datum":30,"type":"quantitative","axis":null},"y":{"datum":-69,"type":"quantitative","axis":null},"text":{"value":["SRH","(MATLAB)"]}}}
]},
{"width":348,"height":143,"title":"fo:120.0 Hz, FMdpth:25.0 cent\u00a0 SNR:19 dB","resolve":{"axis":{"x":"independent","y":"independent"}},"layer":[
{"data":{"name":"p8"},"transform":[{"fold":["L","T","N"],"as":["s","g"]}],"mark":{"type":"line","clip":true},"encoding":{"x":{"field":"f","type":"quantitative","scale":{"type":"log","domain":[1,100],"nice":false},"axis":{"orient":"bottom","values":[1,2,3,4,5,6,7,8,9,10,20,30,40,50,60,70,80,90,100],"labelExpr":"datum.value==1?'10⁰':datum.value==10?'10¹':datum.value==100?'10²':''","gridDash":{"condition":{"test":"datum.value==10","value":[1,0]},"value":[1,2]},"gridColor":{"condition":{"test":"datum.value==10","value":"#dcdcdc"},"value":"#b0b0b0"},"title":"frequency (Hz)"}},"y":{"field":"g","type":"quantitative","scale":{"domain":[-100,10],"nice":false},"axis":{"orient":"left","values":[-100,-80,-60,-40,-20,0],"title":"gain (dB)"}},"color":{"field":"s","type":"nominal","scale":{"domain":["L","T","N"],"range":["#0072BD","#D95319","#EDB120"]},"legend":{"title":null,"orient":"none","legendX":96,"legendY":123,"direction":"horizontal","labelExpr":"datum.label=='L'?'LTI':datum.label=='T'?'TV−rand':'non−LTI'"}}}},
{"data":{"values":[{}]},"mark":{"type":"rule"},"encoding":{"x":{"datum":10.2,"type":"quantitative","axis":null}}},
{"data":{"values":[{}]},"mark":{"type":"rule"},"encoding":{"y":{"datum":-12.9,"type":"quantitative","axis":null}}},
{"data":{"values":[{}]},"mark":{"type":"text","align":"right","dx":-3},"encoding":{"x":{"datum":10.2,"type":"quantitative","axis":null},"y":{"datum":5,"type":"quantitative","axis":null},"text":{"value":"bw 10.2 Hz"}}},
{"data":{"values":[{}]},"mark":{"type":"text","align":"left","baseline":"bottom","dx":2,"dy":-1,"fontSize":11},"encoding":{"x":{"datum":1,"type":"quantitative","axis":null},"y":{"datum":-12.9,"type":"quantitative","axis":null},"text":{"value":"TD −12.9 dB"}}},
{"data":{"values":[{}]},"mark":{"type":"text","align":"left","baseline":"top","fontSize":15,"lineHeight":15,"color":"#111"},"encoding":{"x":{"datum":30,"type":"quantitative","axis":null},"y":{"datum":-69,"type":"quantitative","axis":null},"text":{"value":["YIN","(ECKF)"]}}}
]},
{"width":348,"height":143,"title":"fo:120.0 Hz, FMdpth:25.0 cent\u00a0 SNR:19 dB","resolve":{"axis":{"x":"independent","y":"independent"}},"layer":[
{"data":{"name":"p9"},"transform":[{"fold":["L","T","N"],"as":["s","g"]}],"mark":{"type":"line","clip":true},"encoding":{"x":{"field":"f","type":"quantitative","scale":{"type":"log","domain":[1,100],"nice":false},"axis":{"orient":"bottom","values":[1,2,3,4,5,6,7,8,9,10,20,30,40,50,60,70,80,90,100],"labelExpr":"datum.value==1?'10⁰':datum.value==10?'10¹':datum.value==100?'10²':''","gridDash":{"condition":{"test":"datum.value==10","value":[1,0]},"value":[1,2]},"gridColor":{"condition":{"test":"datum.value==10","value":"#dcdcdc"},"value":"#b0b0b0"},"title":"frequency (Hz)"}},"y":{"field":"g","type":"quantitative","scale":{"domain":[-100,10],"nice":false},"axis":{"orient":"left","values":[-100,-80,-60,-40,-20,0],"title":"gain (dB)"}},"color":{"field":"s","type":"nominal","scale":{"domain":["L","T","N"],"range":["#0072BD","#D95319","#EDB120"]},"legend":{"title":null,"orient":"none","legendX":96,"legendY":123,"direction":"horizontal","labelExpr":"datum.label=='L'?'LTI':datum.label=='T'?'TV−rand':'non−LTI'"}}}},
{"data":{"values":[{}]},"mark":{"type":"rule"},"encoding":{"x":{"datum":16.6,"type":"quantitative","axis":null}}},
{"data":{"values":[{}]},"mark":{"type":"rule"},"encoding":{"y":{"datum":-21.5,"type":"quantitative","axis":null}}},
{"data":{"values":[{}]},"mark":{"type":"text","align":"right","dx":-3},"encoding":{"x":{"datum":16.6,"type":"quantitative","axis":null},"y":{"datum":5,"type":"quantitative","axis":null},"text":{"value":"bw 16.6 Hz"}}},
{"data":{"values":[{}]},"mark":{"type":"text","align":"left","baseline":"bottom","dx":2,"dy":-1,"fontSize":11},"encoding":{"x":{"datum":1,"type":"quantitative","axis":null},"y":{"datum":-21.5,"type":"quantitative","axis":null},"text":{"value":"TD −21.5 dB"}}},
{"data":{"values":[{}]},"mark":{"type":"text","align":"left","baseline":"top","fontSize":15,"lineHeight":15,"color":"#111"},"encoding":{"x":{"datum":30,"type":"quantitative","axis":null},"y":{"datum":-69,"type":"quantitative","axis":null},"text":{"value":["NDF","(I.STRAIGHT)"]}}}
]},
{"width":348,"height":143,"title":"fo:120.0 Hz, FMdpth:25.0 cent\u00a0 SNR:19 dB","resolve":{"axis":{"x":"independent","y":"independent"}},"layer":[
{"data":{"name":"p10"},"transform":[{"fold":["L","T","N"],"as":["s","g"]}],"mark":{"type":"line","clip":true},"encoding":{"x":{"field":"f","type":"quantitative","scale":{"type":"log","domain":[1,100],"nice":false},"axis":{"orient":"bottom","values":[1,2,3,4,5,6,7,8,9,10,20,30,40,50,60,70,80,90,100],"labelExpr":"datum.value==1?'10⁰':datum.value==10?'10¹':datum.value==100?'10²':''","gridDash":{"condition":{"test":"datum.value==10","value":[1,0]},"value":[1,2]},"gridColor":{"condition":{"test":"datum.value==10","value":"#dcdcdc"},"value":"#b0b0b0"},"title":"frequency (Hz)"}},"y":{"field":"g","type":"quantitative","scale":{"domain":[-100,10],"nice":false},"axis":{"orient":"left","values":[-100,-80,-60,-40,-20,0],"title":"gain (dB)"}},"color":{"field":"s","type":"nominal","scale":{"domain":["L","T","N"],"range":["#0072BD","#D95319","#EDB120"]},"legend":{"title":null,"orient":"none","legendX":96,"legendY":123,"direction":"horizontal","labelExpr":"datum.label=='L'?'LTI':datum.label=='T'?'TV−rand':'non−LTI'"}}}},
{"data":{"values":[{}]},"mark":{"type":"rule"},"encoding":{"x":{"datum":3.2,"type":"quantitative","axis":null}}},
{"data":{"values":[{}]},"mark":{"type":"rule"},"encoding":{"y":{"datum":-27.7,"type":"quantitative","axis":null}}},
{"data":{"values":[{}]},"mark":{"type":"text","align":"right","dx":-3},"encoding":{"x":{"datum":3.2,"type":"quantitative","axis":null},"y":{"datum":5,"type":"quantitative","axis":null},"text":{"value":"bw 3.2 Hz"}}},
{"data":{"values":[{}]},"mark":{"type":"text","align":"left","baseline":"bottom","dx":2,"dy":-1,"fontSize":11},"encoding":{"x":{"datum":1,"type":"quantitative","axis":null},"y":{"datum":-27.7,"type":"quantitative","axis":null},"text":{"value":"TD −27.7 dB"}}},
{"data":{"values":[{}]},"mark":{"type":"text","align":"left","baseline":"top","fontSize":15,"lineHeight":15,"color":"#111"},"encoding":{"x":{"datum":30,"type":"quantitative","axis":null},"y":{"datum":-68,"type":"quantitative","axis":null},"text":{"value":["PEF","(MATLAB)"]}}}
]},
{"width":348,"height":143,"title":"fo:120.0 Hz, FMdpth:25.0 cent\u00a0 SNR:19 dB","resolve":{"axis":{"x":"independent","y":"independent"}},"layer":[
{"data":{"name":"p11"},"transform":[{"fold":["L","T","N"],"as":["s","g"]}],"mark":{"type":"line","clip":true},"encoding":{"x":{"field":"f","type":"quantitative","scale":{"type":"log","domain":[1,100],"nice":false},"axis":{"orient":"bottom","values":[1,2,3,4,5,6,7,8,9,10,20,30,40,50,60,70,80,90,100],"labelExpr":"datum.value==1?'10⁰':datum.value==10?'10¹':datum.value==100?'10²':''","gridDash":{"condition":{"test":"datum.value==10","value":[1,0]},"value":[1,2]},"gridColor":{"condition":{"test":"datum.value==10","value":"#dcdcdc"},"value":"#b0b0b0"},"title":"frequency (Hz)"}},"y":{"field":"g","type":"quantitative","scale":{"domain":[-100,10],"nice":false},"axis":{"orient":"left","values":[-100,-80,-60,-40,-20,0],"title":"gain (dB)"}},"color":{"field":"s","type":"nominal","scale":{"domain":["L","T","N"],"range":["#0072BD","#D95319","#EDB120"]},"legend":{"title":null,"orient":"none","legendX":96,"legendY":123,"direction":"horizontal","labelExpr":"datum.label=='L'?'LTI':datum.label=='T'?'TV−rand':'non−LTI'"}}}},
{"data":{"values":[{}]},"mark":{"type":"rule"},"encoding":{"x":{"datum":20.1,"type":"quantitative","axis":null}}},
{"data":{"values":[{}]},"mark":{"type":"rule"},"encoding":{"y":{"datum":-22.8,"type":"quantitative","axis":null}}},
{"data":{"values":[{}]},"mark":{"type":"text","align":"right","dx":-3},"encoding":{"x":{"datum":20.1,"type":"quantitative","axis":null},"y":{"datum":5,"type":"quantitative","axis":null},"text":{"value":"bw 20.1 Hz"}}},
{"data":{"values":[{}]},"mark":{"type":"text","align":"left","baseline":"bottom","dx":2,"dy":-1,"fontSize":11},"encoding":{"x":{"datum":1,"type":"quantitative","axis":null},"y":{"datum":-22.8,"type":"quantitative","axis":null},"text":{"value":"TD −22.8 dB"}}},
{"data":{"values":[{}]},"mark":{"type":"text","align":"left","baseline":"top","fontSize":15,"lineHeight":15,"color":"#111"},"encoding":{"x":{"datum":30,"type":"quantitative","axis":null},"y":{"datum":-77,"type":"quantitative","axis":null},"text":{"value":"YANG"}}}
]},
{"width":348,"height":143,"title":"fo:120.0 Hz, FMdpth:25.0 cent\u00a0 SNR:19 dB","resolve":{"axis":{"x":"independent","y":"independent"}},"layer":[
{"data":{"name":"p12"},"transform":[{"fold":["L","T","N"],"as":["s","g"]}],"mark":{"type":"line","clip":true},"encoding":{"x":{"field":"f","type":"quantitative","scale":{"type":"log","domain":[1,100],"nice":false},"axis":{"orient":"bottom","values":[1,2,3,4,5,6,7,8,9,10,20,30,40,50,60,70,80,90,100],"labelExpr":"datum.value==1?'10⁰':datum.value==10?'10¹':datum.value==100?'10²':''","gridDash":{"condition":{"test":"datum.value==10","value":[1,0]},"value":[1,2]},"gridColor":{"condition":{"test":"datum.value==10","value":"#dcdcdc"},"value":"#b0b0b0"},"title":"frequency (Hz)"}},"y":{"field":"g","type":"quantitative","scale":{"domain":[-100,10],"nice":false},"axis":{"orient":"left","values":[-100,-80,-60,-40,-20,0],"title":"gain (dB)"}},"color":{"field":"s","type":"nominal","scale":{"domain":["L","T","N"],"range":["#0072BD","#D95319","#EDB120"]},"legend":{"title":null,"orient":"none","legendX":96,"legendY":123,"direction":"horizontal","labelExpr":"datum.label=='L'?'LTI':datum.label=='T'?'TV−rand':'non−LTI'"}}}},
{"data":{"values":[{}]},"mark":{"type":"rule"},"encoding":{"x":{"datum":13.8,"type":"quantitative","axis":null}}},
{"data":{"values":[{}]},"mark":{"type":"rule"},"encoding":{"y":{"datum":-15.2,"type":"quantitative","axis":null}}},
{"data":{"values":[{}]},"mark":{"type":"text","align":"right","dx":-3},"encoding":{"x":{"datum":13.8,"type":"quantitative","axis":null},"y":{"datum":5,"type":"quantitative","axis":null},"text":{"value":"bw 13.8 Hz"}}},
{"data":{"values":[{}]},"mark":{"type":"text","align":"left","baseline":"bottom","dx":2,"dy":-1,"fontSize":11},"encoding":{"x":{"datum":1,"type":"quantitative","axis":null},"y":{"datum":-15.2,"type":"quantitative","axis":null},"text":{"value":"TD −15.2 dB"}}},
{"data":{"values":[{}]},"mark":{"type":"text","align":"left","baseline":"top","fontSize":15,"lineHeight":15,"color":"#111"},"encoding":{"x":{"datum":30,"type":"quantitative","axis":null},"y":{"datum":-77,"type":"quantitative","axis":null},"text":{"value":"NINJALX2"}}}
]}
]
}
